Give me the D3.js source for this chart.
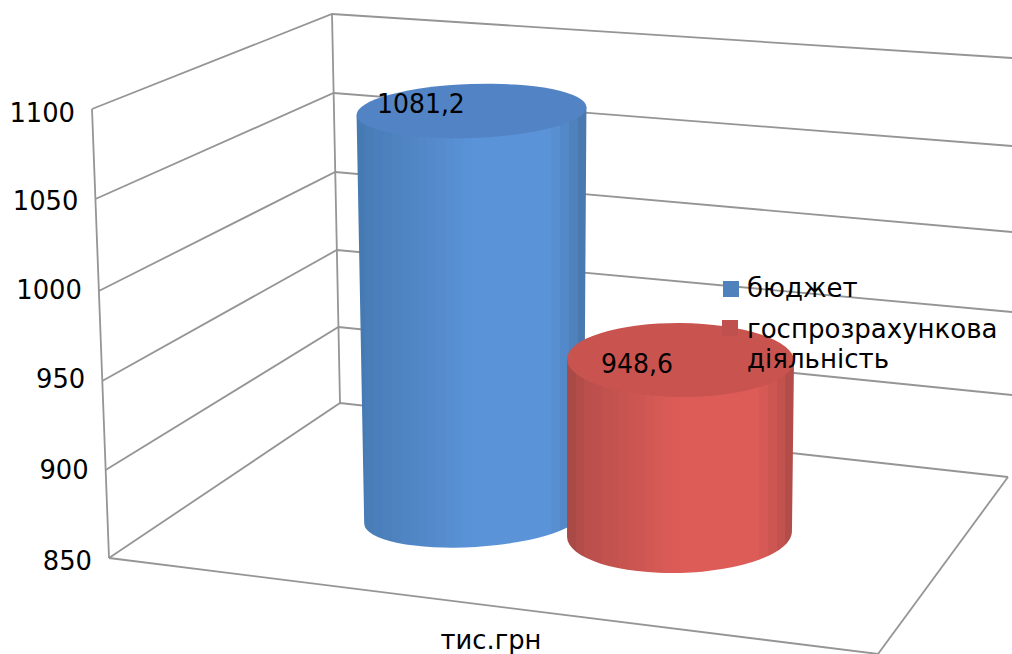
<!DOCTYPE html>
<html>
<head>
<meta charset="utf-8">
<style>
    html, body { margin: 0; padding: 0; background: #fff; overflow: hidden; }
    svg { display: block; font-family: "DejaVu Sans", sans-serif; }
</style>
<script src="https://cdn.jsdelivr.net/npm/d3@7"></script>
</head>
<body>
<svg id="chart" width="1012" height="654"></svg>
<script>
const categories = ['тис.грн'];
const seriesNames = ['бюджет', 'госпрозрахункова діяльність'];
const seriesValues = [1081.2, 948.6];
const valueLabels = ['1081,2', '948,6'];
const yTicks = [850, 900, 950, 1000, 1050, 1100];

const svg = d3.select('#chart');
const defs = svg.append('defs');
const gridColor = '#959595';

// The three upright edges of the 3D box, one pair of scales per edge
const domain = [850, 900, 950, 1000, 1050, 1100];
const leftY = d3.scaleLinear().domain(domain).range([558, 470, 381, 291, 199, 109]);
const leftX = d3.scaleLinear().domain([850, 1100]).range([109, 92]);
const backY = d3.scaleLinear().domain(domain).range([403, 327, 250, 172, 93, 14]);
const backX = d3.scaleLinear().domain([850, 1100]).range([340, 332]);
const rightY = d3.scaleLinear().domain(domain).range([477, 395, 312, 232, 146, 58]);
const rightX = d3.scaleLinear().domain([850, 1100]).range([1008, 1012]);
const tickLabelY = d3.scaleLinear().domain(domain).range([570, 479, 388, 299, 210, 122]);

// Text of the original is slightly narrow for its height
function putText(sel, x, y, squeeze) {
    return sel
        .attr('transform', `translate(${x},${y}) scale(${squeeze || 0.955},1)`)
        .attr('font-size', 27)
        .attr('fill', '#000');
}

const grid = svg.append('g')
    .attr('fill', 'none')
    .attr('stroke', gridColor)
    .attr('stroke-width', 1.8);

yTicks.forEach(t => {
    const right = t === 850 ? rightX(t) : 1012;
    grid.append('path')
        .attr('d', `M${leftX(t)},${leftY(t)}L${backX(t)},${backY(t)}L${right},${rightY(t)}`);
});
grid.append('line')
    .attr('x1', leftX(850)).attr('y1', leftY(850))
    .attr('x2', leftX(1100)).attr('y2', leftY(1100));
grid.append('line')
    .attr('x1', backX(850)).attr('y1', backY(850))
    .attr('x2', backX(1100)).attr('y2', backY(1100));
// floor front edges
grid.append('path').attr('d', `M${leftX(850)},${leftY(850)}L878,654`);
grid.append('path').attr('d', `M${rightX(850)},${rightY(850)}L878,654`);

svg.append('g')
    .selectAll('text')
    .data(yTicks)
    .join('text')
    .attr('text-anchor', 'end')
    .text(d => d)
    .each(function (d) {
        putText(d3.select(this), leftX(d) - 17, tickLabelY(d));
    });

// Cylinders: base and top ellipse differ a bit because of the perspective
const cylinders = [
    {
        y: d3.scaleLinear().domain([850, seriesValues[0]]).range([517, 111]),
        top: { cx: 471.5, rx: 115, ry: 27, rot: -2 },
        base: { cx: 474, rx: 110, ry: 30, rot: -3.5 },
        top_color: '#5284c5',
        shades: ['#467ab2', '#4b7fba', '#5388c8', '#5a93d8', '#5a93d8', '#5287c6', '#4a79b0']
    },
    {
        y: d3.scaleLinear().domain([850, seriesValues[1]]).range([534, 360]),
        top: { cx: 680.5, rx: 113.5, ry: 37, rot: 0.5 },
        base: { cx: 679.5, rx: 112.5, ry: 39, rot: -1.5 },
        top_color: '#c9534f',
        shades: ['#a94a47', '#b94f4b', '#cb5551', '#de5c58', '#de5c58', '#cb5551', '#b34d4a']
    }
];

function edgePoint(e, cy, dir) {
    const a = e.rot * Math.PI / 180;
    return [e.cx + dir * e.rx * Math.cos(a), cy + dir * e.rx * Math.sin(a)];
}

seriesValues.forEach((value, i) => {
    const c = cylinders[i];
    const topY = c.y(value);
    const baseY = c.y(850);
    const tl = edgePoint(c.top, topY, -1);
    const tr = edgePoint(c.top, topY, 1);
    const bl = edgePoint(c.base, baseY, -1);
    const br = edgePoint(c.base, baseY, 1);

    // banded shading like the stepped gradient of the original
    const shade = d3.scaleLinear()
        .domain([0, 0.07, 0.28, 0.5, 0.85, 0.93, 1])
        .range(c.shades);
    const bands = 26;
    const grad = defs.append('linearGradient')
        .attr('id', `body-${i}`)
        .attr('gradientUnits', 'userSpaceOnUse')
        .attr('x1', tl[0]).attr('x2', tr[0])
        .attr('y1', 0).attr('y2', 0);
    d3.range(bands).forEach(b => {
        const col = shade(b / (bands - 1));
        grad.append('stop').attr('offset', b / bands).attr('stop-color', col);
        grad.append('stop').attr('offset', (b + 1) / bands).attr('stop-color', col);
    });

    const g = svg.append('g');
    g.append('path')
        .attr('fill', `url(#body-${i})`)
        .attr('d', `M${tl}L${bl}A${c.base.rx},${c.base.ry} ${c.base.rot} 0 0 ${br}L${tr}Z`);
    g.append('ellipse')
        .attr('cx', c.top.cx).attr('cy', topY)
        .attr('rx', c.top.rx).attr('ry', c.top.ry)
        .attr('transform', `rotate(${c.top.rot} ${c.top.cx} ${topY})`)
        .attr('fill', c.top_color);
});

// value labels
const labelX = [377, 601];
const labelY = [113, 373];
valueLabels.forEach((d, i) => {
    putText(svg.append('text').text(d), labelX[i], labelY[i], 0.93);
});

// category label
putText(svg.append('text').attr('text-anchor', 'middle').text(categories[0]), 491, 649);

// legend
const legendColors = ['#4f81bd', '#c0504d'];
const legendY = [281, 320];
const legend = svg.append('g');
legend.selectAll('rect')
    .data(seriesNames)
    .join('rect')
    .attr('x', (d, i) => 723 - i)
    .attr('y', (d, i) => legendY[i])
    .attr('width', 16)
    .attr('height', 16)
    .attr('fill', (d, i) => legendColors[i]);

putText(legend.append('text').text(seriesNames[0]), 747, 297, 0.965);
const [firstLine, secondLine] = seriesNames[1].split(' ');
putText(legend.append('text').text(firstLine), 747, 338, 0.965);
putText(legend.append('text').text(secondLine), 747, 368, 0.965);
</script>
</body>
</html>
